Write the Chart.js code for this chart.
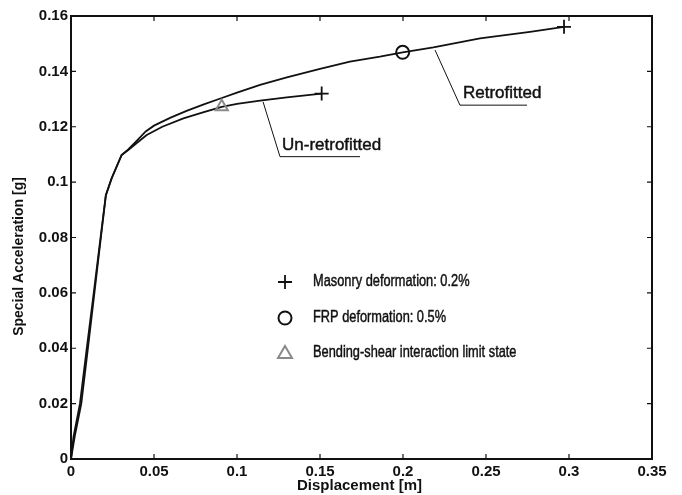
<!DOCTYPE html>
<html>
<head>
<meta charset="utf-8">
<script src="https://cdn.jsdelivr.net/npm/chart.js@4"></script>
<style>
  html, body { margin: 0; padding: 0; background: #fff; }
  #wrap { width: 682px; height: 495px; position: relative; }
</style>
</head>
<body>
<div id="wrap"><canvas id="pushover"></canvas></div>
<script>
// ==========================
// Data
// ==========================
const xTicks = [0, 0.05, 0.1, 0.15, 0.2, 0.25, 0.3, 0.35];
const xTickLabels = ["0", "0.05", "0.1", "0.15", "0.2", "0.25", "0.3", "0.35"];
const yTicks = [0, 0.02, 0.04, 0.06, 0.08, 0.1, 0.12, 0.14, 0.16];
const yTickLabels = ["0", "0.02", "0.04", "0.06", "0.08", "0.1", "0.12", "0.14", "0.16"];

const retroX = [0, 0.0015, 0.0054, 0.0095, 0.0137, 0.0178, 0.021, 0.0245, 0.0305, 0.0345, 0.04, 0.045, 0.05, 0.06, 0.07, 0.08, 0.09, 0.1, 0.1139, 0.13, 0.15, 0.168, 0.1861, 0.1998, 0.2183, 0.2464, 0.2765, 0.297];
const retroY = [0, 0.008, 0.02, 0.04, 0.06, 0.08, 0.0953, 0.1014, 0.1098, 0.1118, 0.1152, 0.1183, 0.1204, 0.1233, 0.1258, 0.1281, 0.1302, 0.1323, 0.1351, 0.1378, 0.1409, 0.1435, 0.1453, 0.1469, 0.1487, 0.1519, 0.1543, 0.1561];

const unretroX = [0, 0.0022, 0.0062, 0.0102, 0.0141, 0.018, 0.021, 0.0245, 0.0305, 0.0345, 0.04, 0.0456, 0.055, 0.0677, 0.08, 0.0908, 0.1, 0.1139, 0.13, 0.151];
const unretroY = [0, 0.008, 0.02, 0.04, 0.06, 0.08, 0.0953, 0.1014, 0.1098, 0.1116, 0.1143, 0.117, 0.12, 0.123, 0.1253, 0.1272, 0.1283, 0.1294, 0.1306, 0.132];

// limit-state markers
const masonryX = [0.151, 0.297];
const masonryY = [0.132, 0.1561];
const frpX = [0.1998];
const frpY = [0.1469];
const bendingX = [0.0908];
const bendingY = [0.1272];

const legendLabels = ["Masonry deformation: 0.2%", "FRP deformation: 0.5%", "Bending-shear interaction limit state"];

// leader lines for the curve names (data units)
const notes = [
  { text: "Retrofitted", path: [[0.2193, 0.1477], [0.2343, 0.1278], [0.2747, 0.1278]], at: [0.2361, 0.1322] },
  { text: "Un-retrofitted", path: [[0.1157, 0.129], [0.1259, 0.1092], [0.1741, 0.1092]], at: [0.1271, 0.1134] }
];

const xy = (xs, ys) => xs.map((x, i) => ({ x: x, y: ys[i] }));

const INK = "#111";
const GREY = "#8a8a8a";
const FONT = "'Liberation Sans', Arial, sans-serif";

// draw text a little heavier, like the scanned original
function inkText(ctx, t, x, y) {
  ctx.fillText(t, x, y);
  ctx.lineWidth = 0.45;
  ctx.strokeStyle = INK;
  ctx.strokeText(t, x, y);
}

// =================================
// Frame, inward ticks, titles, notes
// =================================
const decorPlugin = {
  id: "decor",
  afterDatasetsDraw(chart) {
    const { ctx, chartArea: a, scales } = chart;
    const xs = scales.x, ys = scales.y;
    ctx.save();

    // box
    ctx.strokeStyle = INK;
    ctx.lineWidth = 2;
    ctx.strokeRect(a.left, a.top, a.right - a.left, a.bottom - a.top);

    // inward ticks on all four sides
    ctx.lineWidth = 1.2;
    const tl = 5;
    ctx.beginPath();
    xTicks.forEach(v => {
      const px = xs.getPixelForValue(v);
      ctx.moveTo(px, a.bottom); ctx.lineTo(px, a.bottom - tl);
      ctx.moveTo(px, a.top); ctx.lineTo(px, a.top + tl);
    });
    yTicks.forEach(v => {
      const py = ys.getPixelForValue(v);
      ctx.moveTo(a.left, py); ctx.lineTo(a.left + tl, py);
      ctx.moveTo(a.right, py); ctx.lineTo(a.right - tl, py);
    });
    ctx.stroke();

    // axis titles
    ctx.fillStyle = INK;
    ctx.textAlign = "center";
    ctx.textBaseline = "middle";
    ctx.font = "bold 15px " + FONT;
    ctx.fillText("Displacement [m]", (a.left + a.right) / 2 - 2, a.bottom + 27);
    ctx.save();
    ctx.translate(19, (a.top + a.bottom) / 2 + 19);
    ctx.rotate(-Math.PI / 2);
    ctx.font = "bold 14px " + FONT;
    ctx.fillText("Special Acceleration [g]", 0, 0);
    ctx.restore();

    // curve names with leader lines
    ctx.textAlign = "left";
    ctx.font = "17px " + FONT;
    notes.forEach(n => {
      ctx.lineWidth = 1;
      ctx.strokeStyle = INK;
      ctx.beginPath();
      n.path.forEach((p, i) => {
        const px = xs.getPixelForValue(p[0]), py = ys.getPixelForValue(p[1]);
        if (i === 0) ctx.moveTo(px, py); else ctx.lineTo(px, py);
      });
      ctx.stroke();
      inkText(ctx, n.text, xs.getPixelForValue(n.at[0]), ys.getPixelForValue(n.at[1]));
    });

    // legend box (no frame)
    const mx = a.left + 214, tx = a.left + 242;
    const rows = [a.top + 266, a.top + 302, a.top + 337];
    // plus
    ctx.strokeStyle = INK;
    ctx.lineWidth = 1.8;
    ctx.beginPath();
    ctx.moveTo(mx - 7, rows[0]); ctx.lineTo(mx + 7, rows[0]);
    ctx.moveTo(mx, rows[0] - 7); ctx.lineTo(mx, rows[0] + 7);
    ctx.stroke();
    // circle
    ctx.lineWidth = 2;
    ctx.beginPath();
    ctx.arc(mx, rows[1], 6.5, 0, Math.PI * 2);
    ctx.stroke();
    // triangle
    ctx.strokeStyle = GREY;
    ctx.beginPath();
    ctx.moveTo(mx, rows[2] - 7);
    ctx.lineTo(mx + 7, rows[2] + 5);
    ctx.lineTo(mx - 7, rows[2] + 5);
    ctx.closePath();
    ctx.stroke();

    ctx.fillStyle = INK;
    ctx.font = "16px " + FONT;
    legendLabels.forEach((t, i) => {
      ctx.save();
      ctx.translate(tx, rows[i]);
      ctx.scale(0.8, 1);
      inkText(ctx, t, 0, 0);
      ctx.restore();
    });

    ctx.restore();
  }
};

new Chart(document.getElementById("pushover"), {
  type: "scatter",
  data: {
    datasets: [
      {
        label: "Retrofitted",
        data: xy(retroX, retroY),
        showLine: true,
        borderColor: INK,
        borderWidth: 1.8,
        pointRadius: 0,
        tension: 0,
        order: 3
      },
      {
        label: "Un-retrofitted",
        data: xy(unretroX, unretroY),
        showLine: true,
        borderColor: INK,
        borderWidth: 1.8,
        pointRadius: 0,
        tension: 0,
        order: 3
      },
      {
        label: legendLabels[0],
        data: xy(masonryX, masonryY),
        pointStyle: "cross",
        pointRadius: 7,
        borderColor: INK,
        borderWidth: 1.8,
        order: 1
      },
      {
        label: legendLabels[1],
        data: xy(frpX, frpY),
        pointStyle: "circle",
        pointRadius: 6.5,
        backgroundColor: "rgba(0,0,0,0)",
        borderColor: INK,
        borderWidth: 2,
        order: 1
      },
      {
        label: legendLabels[2],
        data: xy(bendingX, bendingY),
        pointStyle: "triangle",
        pointRadius: 7,
        backgroundColor: "rgba(0,0,0,0)",
        borderColor: GREY,
        borderWidth: 2,
        order: 1
      }
    ]
  },
  options: {
    responsive: true,
    maintainAspectRatio: false,
    animation: false,
    layout: { padding: { left: 0, top: 16, right: 30, bottom: 0 } },
    plugins: {
      legend: { display: false },
      tooltip: { enabled: false }
    },
    scales: {
      x: {
        type: "linear",
        min: 0,
        max: 0.35,
        afterBuildTicks: s => { s.ticks = xTicks.map(v => ({ value: v })); },
        afterFit: s => { s.height = 36; },
        grid: { display: false, drawTicks: false },
        border: { display: false },
        ticks: {
          padding: 4,
          color: INK,
          maxRotation: 0,
          autoSkip: false,
          font: { family: FONT, size: 15, weight: "bold" },
          callback: (v, i) => xTickLabels[i]
        }
      },
      y: {
        type: "linear",
        min: 0,
        max: 0.16,
        afterBuildTicks: s => { s.ticks = yTicks.map(v => ({ value: v })); },
        afterFit: s => { s.width = 71; },
        grid: { display: false, drawTicks: false },
        border: { display: false },
        ticks: {
          padding: 3,
          color: INK,
          autoSkip: false,
          font: { family: FONT, size: 15, weight: "bold" },
          callback: (v, i) => yTickLabels[i]
        }
      }
    }
  },
  plugins: [decorPlugin]
});
</script>
</body>
</html>
